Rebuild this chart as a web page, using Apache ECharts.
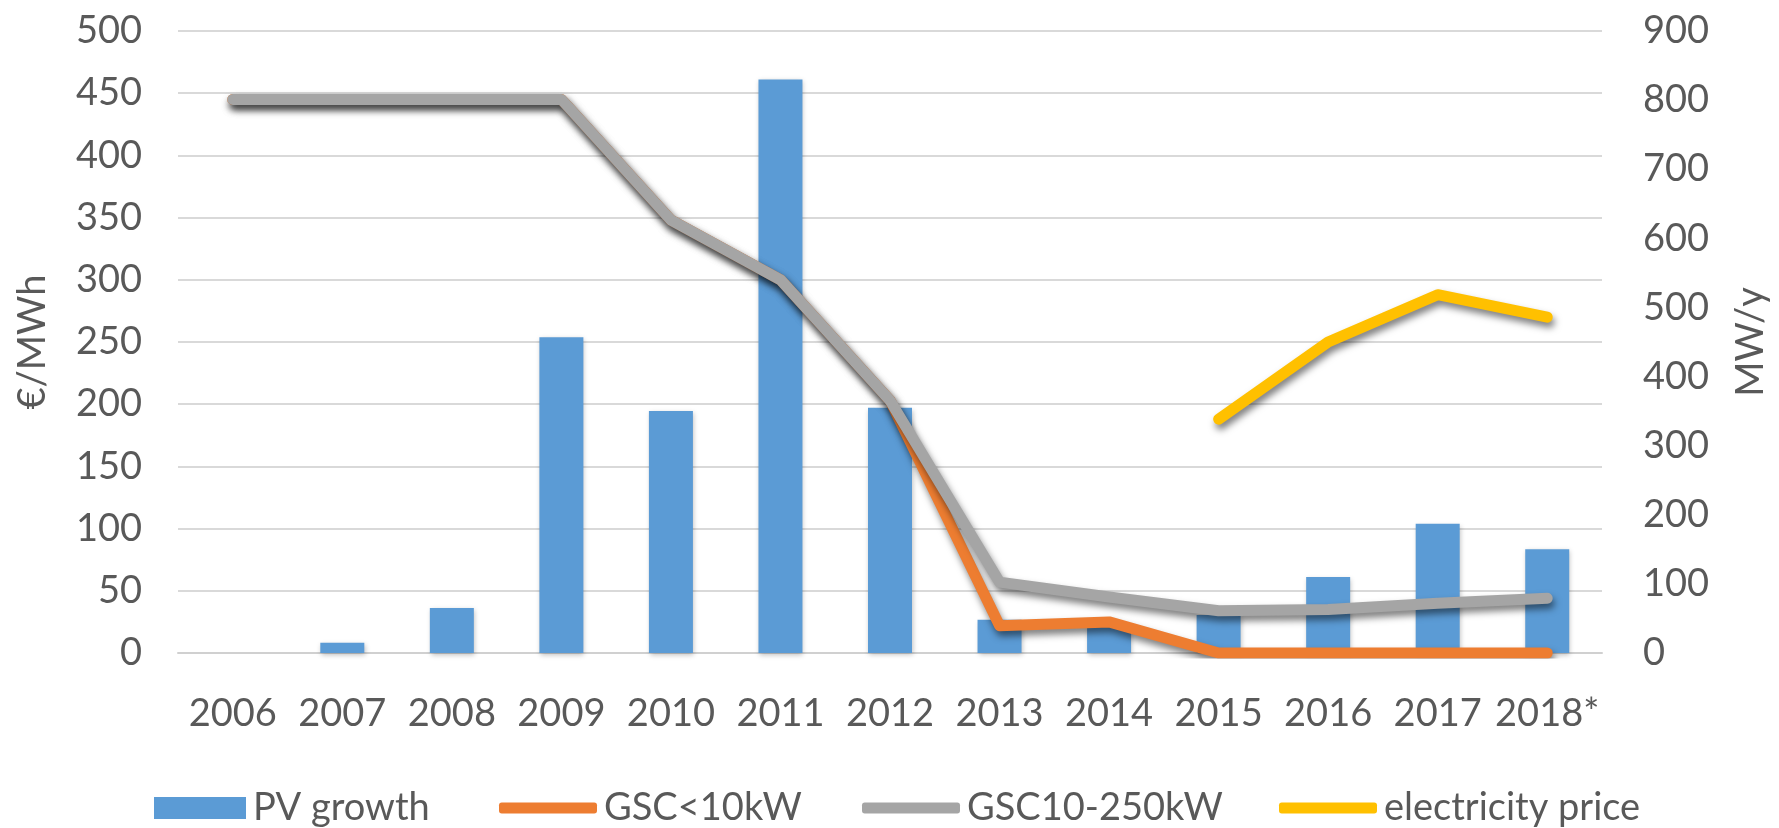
<!DOCTYPE html>
<html>
<head>
<meta charset="utf-8">
<title>PV growth and tariffs</title>
<script src="https://cdn.jsdelivr.net/npm/echarts@6/dist/echarts.min.js"></script>
<style>
  html, body { margin: 0; padding: 0; background: #ffffff; }
  #chart { width: 1779px; height: 828px; }
</style>
</head>
<body>
<div id="chart"></div>
<script>
// Years on the category axis
const years = ['2006', '2007', '2008', '2009', '2010', '2011', '2012', '2013', '2014', '2015', '2016', '2017', '2018*'];

// Annual PV capacity added, MW/y (right axis)
const pvGrowth = [0, 15, 65, 457, 350, 830, 355, 48, 40, 55, 110, 187, 150];

// Support tariffs, €/MWh (left axis)
const gscSmall = [445, 445, 445, 445, 348, 300, 203, 22, 25, 0, 0, 0, 0];
const gscMedium = [445, 445, 445, 445, 348, 300, 203, 57, 45, 34, 35, 40, 44];

// Retail electricity price, €/MWh (left axis)
const elecPrice = [null, null, null, null, null, null, null, null, null, 188, 250, 288, 270];

// Axis ticks
const leftTicks = { min: 0, max: 500, interval: 50 };
const rightTicks = { min: 0, max: 900, interval: 100 };

const FONT = 'Lato, "Open Sans", "Liberation Sans", sans-serif';
const TEXT = '#595959';

const chart = echarts.init(document.getElementById('chart'), null, { renderer: 'canvas' });

const lineShadow = {
  shadowColor: 'rgba(0,0,0,0.5)',
  shadowBlur: 7,
  shadowOffsetX: 2,
  shadowOffsetY: 5
};

function legendFor(name, left, icon, w, h, color) {
  return {
    data: [name],
    left: left,
    top: 784,
    icon: icon,
    itemWidth: w,
    itemHeight: h,
    itemStyle: { color: color, shadowBlur: 0, borderWidth: 0 },
    lineStyle: { opacity: 0 },
    textStyle: { fontFamily: FONT, fontSize: 38, color: TEXT, padding: [0, 0, 0, 2] },
    selectedMode: false
  };
}

chart.setOption({
  animation: false,
  backgroundColor: '#ffffff',
  textStyle: { fontFamily: FONT },
  grid: { left: 178, right: 177, top: 31, bottom: 175, containLabel: false },
  legend: [
    legendFor('PV growth', 149, 'rect', 92, 22, '#5B9BD5'),
    legendFor('GSC<10kW', 494, 'roundRect', 98, 11, '#ED7D31'),
    legendFor('GSC10-250kW', 857, 'roundRect', 98, 11, '#A5A5A5'),
    legendFor('electricity price', 1274, 'roundRect', 98, 11, '#FFC000')
  ],
  xAxis: {
    type: 'category',
    data: years,
    boundaryGap: true,
    axisLine: { show: true, lineStyle: { color: '#D0D0D0', width: 2 } },
    axisTick: { show: false },
    axisLabel: { color: TEXT, fontSize: 38, fontFamily: FONT, margin: 42, interval: 0 },
    splitLine: { show: false }
  },
  yAxis: [
    {
      type: 'value',
      name: '€/MWh',
      nameLocation: 'middle',
      nameGap: 126,
      nameTextStyle: { color: TEXT, fontSize: 38, fontFamily: FONT },
      min: leftTicks.min,
      max: leftTicks.max,
      interval: leftTicks.interval,
      axisLine: { show: false },
      axisTick: { show: false },
      axisLabel: { color: TEXT, fontSize: 38, fontFamily: FONT, margin: 36 },
      splitLine: { show: true, lineStyle: { color: '#D9D9D9', width: 2 } }
    },
    {
      type: 'value',
      name: 'MW/y',
      nameLocation: 'middle',
      nameGap: 130,
      nameTextStyle: { color: TEXT, fontSize: 38, fontFamily: FONT },
      position: 'right',
      min: rightTicks.min,
      max: rightTicks.max,
      interval: rightTicks.interval,
      axisLine: { show: false },
      axisTick: { show: false },
      axisLabel: { color: TEXT, fontSize: 38, fontFamily: FONT, margin: 41 },
      splitLine: { show: false }
    }
  ],
  series: [
    {
      name: 'PV growth',
      type: 'bar',
      yAxisIndex: 1,
      data: pvGrowth,
      barWidth: 44,
      itemStyle: {
        color: '#5B9BD5',
        shadowColor: 'rgba(0,0,0,0.25)',
        shadowBlur: 5,
        shadowOffsetX: 1,
        shadowOffsetY: 2
      },
      z: 2
    },
    {
      name: 'GSC<10kW',
      type: 'line',
      yAxisIndex: 0,
      data: gscSmall,
      symbol: 'none',
      showSymbol: false,
      lineStyle: Object.assign({ color: '#ED7D31', width: 11, cap: 'round', join: 'round' }, lineShadow),
      itemStyle: { color: '#ED7D31' },
      z: 3
    },
    {
      name: 'GSC10-250kW',
      type: 'line',
      yAxisIndex: 0,
      data: gscMedium,
      symbol: 'none',
      showSymbol: false,
      lineStyle: Object.assign({ color: '#A5A5A5', width: 11, cap: 'round', join: 'round' }, lineShadow),
      itemStyle: { color: '#A5A5A5' },
      z: 4
    },
    {
      name: 'electricity price',
      type: 'line',
      yAxisIndex: 0,
      data: elecPrice,
      connectNulls: false,
      symbol: 'none',
      showSymbol: false,
      lineStyle: Object.assign({ color: '#FFC000', width: 11, cap: 'round', join: 'round' }, lineShadow),
      itemStyle: { color: '#FFC000' },
      z: 5
    }
  ]
});
</script>
</body>
</html>
